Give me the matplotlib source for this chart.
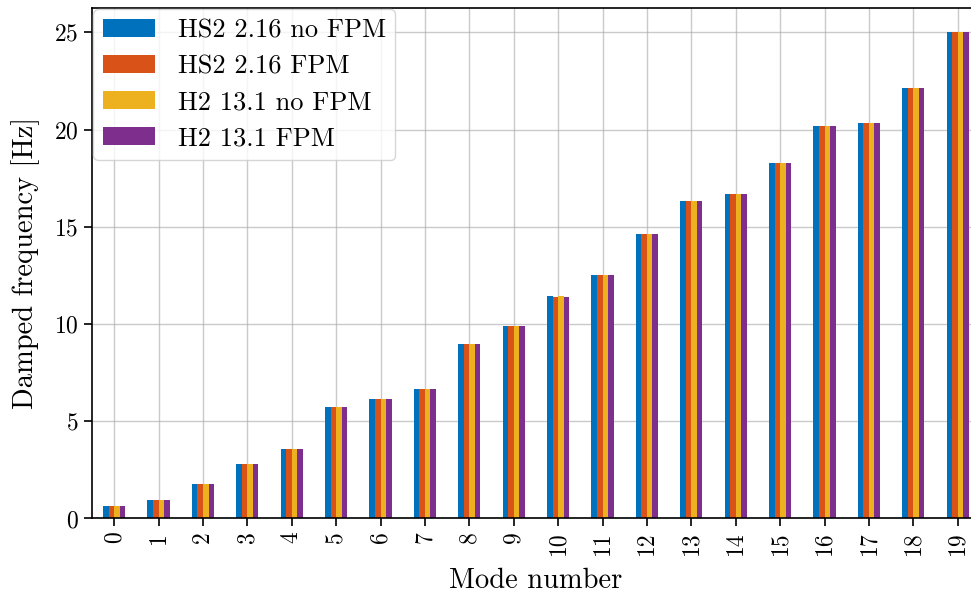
import numpy as np
import matplotlib.pyplot as plt

plt.rcParams['font.family'] = 'serif'
plt.rcParams['font.serif'] = ['cmr10']
plt.rcParams['mathtext.fontset'] = 'cm'
plt.rcParams['axes.formatter.use_mathtext'] = True

modes = list(range(20))
labels = ['HS2 2.16 no FPM', 'HS2 2.16 FPM', 'H2 13.1 no FPM', 'H2 13.1 FPM']
colors = ['#0072BD', '#D95319', '#EDB120', '#7E2F8E']

hs2_nofpm = [0.64, 0.95, 1.77, 2.80, 3.57, 5.73, 6.14, 6.66, 8.97, 9.90,
             11.45, 12.52, 14.61, 16.31, 16.67, 18.26, 20.16, 20.36, 22.16, 25.0]
hs2_fpm = [0.64, 0.95, 1.77, 2.80, 3.57, 5.73, 6.14, 6.66, 8.97, 9.90,
           11.40, 12.52, 14.61, 16.31, 16.67, 18.26, 20.16, 20.36, 22.16, 25.0]
h2_nofpm = [0.64, 0.95, 1.77, 2.80, 3.57, 5.73, 6.14, 6.66, 8.97, 9.90,
            11.45, 12.52, 14.61, 16.31, 16.67, 18.26, 20.16, 20.36, 22.16, 25.0]
h2_fpm = [0.64, 0.95, 1.77, 2.80, 3.57, 5.73, 6.14, 6.66, 8.97, 9.90,
          11.40, 12.52, 14.61, 16.31, 16.67, 18.26, 20.16, 20.36, 22.16, 25.0]
series = [hs2_nofpm, hs2_fpm, h2_nofpm, h2_fpm]

fig = plt.figure(figsize=(9.71, 5.95), dpi=100)
ax = fig.add_axes([0.0947, 0.1286, 0.9145, 0.858])

x = np.arange(len(modes))
w = 0.125
for k, (vals, lab, c) in enumerate(zip(series, labels, colors)):
    ax.bar(x + (k - 1.5) * w, vals, width=w, color=c, label=lab, zorder=2)

ax.set_xlim(-0.5, len(modes) - 0.5)
ax.set_ylim(0, 26.25)
ax.set_xticks(x)
ax.set_xticklabels([str(m) for m in modes], rotation=90)
ax.set_yticks([0, 5, 10, 15, 20, 25])
ax.tick_params(labelsize=17, direction='out', length=6, width=1.2)
ax.grid(True, color='#a8a8a8', linewidth=1, alpha=0.6, zorder=0)
ax.set_axisbelow(True)
for s in ax.spines.values():
    s.set_linewidth(1.2)

ax.set_xlabel('Mode number', fontsize=20.5, labelpad=9)
ax.set_ylabel('Damped frequency [Hz]', fontsize=20.5, labelpad=10)
ax.legend(loc='upper left', fontsize=19, handlelength=2.0, handleheight=0.68,
          handletextpad=0.85, labelspacing=0.47, borderaxespad=0.05,
          borderpad=0.35, framealpha=0.8)

fig.savefig('out.png', dpi=100)
